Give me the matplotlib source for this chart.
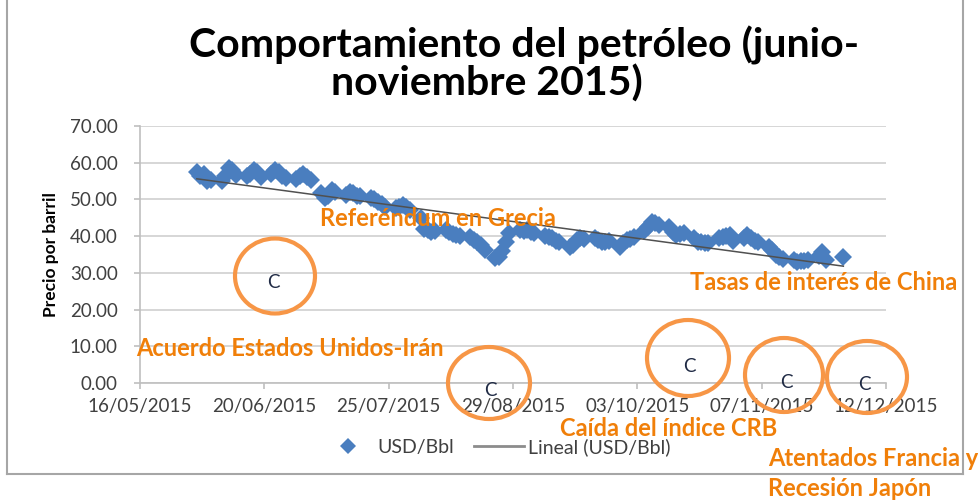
import numpy as np
import pandas as pd
import matplotlib
matplotlib.use("Agg")
import matplotlib.pyplot as plt
import matplotlib.dates as mdates
from matplotlib.patches import Ellipse
from matplotlib.lines import Line2D

plt.rcParams['font.family'] = ['Lato', 'DejaVu Sans']

# ---- data (weekly blocks of trading days, Mon..Fri) ----
week_starts = ['2015-06-01', '2015-06-08', '2015-06-15', '2015-06-22', '2015-06-29',
               '2015-07-06', '2015-07-13', '2015-07-20', '2015-07-27', '2015-08-03',
               '2015-08-10', '2015-08-17', '2015-08-24', '2015-08-31', '2015-09-07',
               '2015-09-14', '2015-09-21', '2015-09-28', '2015-10-05', '2015-10-12',
               '2015-10-19', '2015-10-26', '2015-11-02', '2015-11-09', '2015-11-16',
               '2015-11-23', '2015-11-30']
weekly_prices = [
    [57.5, 56.5, 57.0, 55.0, 55.3],
    [55.0, 56.5, 58.6, 58.0, 56.7],
    [56.5, 57.0, 58.0, 57.5, 56.0],
    [57.0, 58.0, 57.5, 56.5, 55.9],
    [55.5, 56.5, 57.0, 56.0, 55.3],
    [51.8, 50.4, 50.8, 52.6, 52.0],
    [51.2, 52.0, 51.8, 51.0, 50.8],
    [50.4, 50.0, 49.3, 48.8, 48.0],
    [47.7, 47.9, 48.5, 48.0, 47.1],
    [45.0, 42.0, 41.7, 41.1, 41.3],
    [41.7, 41.2, 40.5, 40.3, 40.0],
    [39.8, 39.0, 38.4, 37.5, 36.2],
    [34.0, 34.3, 36.0, 38.5, 40.8],
    [41.7, 41.5, 41.7, 41.0, 40.8],
    [40.0, 39.8, 39.5, 38.8, 38.4],
    [37.0, 37.5, 39.0, 39.5, 39.3],
    [39.5, 39.0, 38.4, 38.5, 38.8],
    [37.0, 38.0, 39.0, 39.3, 39.8],
    [41.5, 42.5, 43.9, 43.5, 43.0],
    [42.5, 41.0, 40.3, 40.5, 40.8],
    [39.5, 38.4, 38.5, 38.2, 38.1],
    [39.5, 39.8, 40.0, 40.3, 38.6],
    [39.5, 40.3, 39.5, 38.8, 38.4],
    [37.0, 36.2, 35.0, 34.3, 33.8],
    [33.5, 33.0, 33.2, 33.3, 33.5],
    [34.5, 35.7, 33.5],
    [34.3],
]
tick_dates = ['2015-05-16', '2015-06-20', '2015-07-25', '2015-08-29',
              '2015-10-03', '2015-11-07', '2015-12-12']
y_ticks = [0, 10, 20, 30, 40, 50, 60, 70]

events = ['Referéndum en Grecia', 'Tasas de interés de China',
          'Acuerdo Estados Unidos-Irán', 'Caída del índice CRB',
          'Atentados Francia y', 'Recesión Japón']

# build series
dates, prices = [], []
for ws, vals in zip(week_starts, weekly_prices):
    start = pd.Timestamp(ws)
    for i, v in enumerate(vals):
        dates.append(start + pd.Timedelta(days=i))
        prices.append(v)
dates = pd.to_datetime(dates)
prices = np.array(prices)

W, H = 979, 500
fig = plt.figure(figsize=(W / 100, H / 100), dpi=100)
fig.patch.set_facecolor('white')

def fx(px):
    return px / W

def fy(py):
    return 1 - py / H

ax = fig.add_axes([fx(140), fy(383), fx(886) - fx(140), fy(126) - fy(383)])

blue = '#4A7EBF'
ax.plot(dates, prices, linestyle='none', marker='D', markersize=9.5,
        color=blue, markeredgewidth=0, zorder=3)

# linear trend
xn = mdates.date2num(dates)
coef = np.polyfit(xn, prices, 1)
xt = np.array([xn.min(), xn.max()])
ax.plot(mdates.num2date(xt), np.polyval(coef, xt), color='#505050', lw=1.1, zorder=4)

ax.set_xlim(pd.Timestamp(tick_dates[0]), pd.Timestamp(tick_dates[-1]))
ax.set_ylim(0, 70)
ax.set_xticks(pd.to_datetime(tick_dates))
ax.xaxis.set_major_formatter(mdates.DateFormatter('%d/%m/%Y'))
ax.set_yticks(y_ticks)
ax.set_yticklabels([f'{v:.2f}' for v in y_ticks])
ax.grid(axis='y', color='#D0D0D0', lw=1.2)
ax.set_axisbelow(True)
for s in ['top', 'right']:
    ax.spines[s].set_visible(False)
for s in ['left', 'bottom']:
    ax.spines[s].set_color('#BFBFBF')
    ax.spines[s].set_linewidth(1.2)
ax.tick_params(axis='both', colors='#BFBFBF', labelcolor='#404040', labelsize=13.5,
               length=4, width=1.2)
ax.tick_params(axis='x', pad=7)
ax.tick_params(axis='y', pad=12)
ax.set_ylabel('Precio por barril', fontsize=12.5, fontweight='bold', color='#000000',
              labelpad=8)

# title
fig.text(fx(524), fy(45), 'Comportamiento del petróleo (junio-', ha='center', va='center',
         fontsize=29.5, fontweight='bold', color='#000000')
fig.text(fx(487), fy(84), 'noviembre 2015)', ha='center', va='center',
         fontsize=29.5, fontweight='bold', color='#000000')

# chart border
fig.add_artist(Line2D([fx(7), fx(7)], [fy(0), fy(474)], color='#A6A6A6', lw=1.5))
fig.add_artist(Line2D([fx(7), fx(963)], [fy(474), fy(474)], color='#A6A6A6', lw=1.5))
fig.add_artist(Line2D([fx(963), fx(963)], [fy(0), fy(474)], color='#A6A6A6', lw=1.5))

# legend
handles = [Line2D([], [], linestyle='none', marker='D', markersize=8, color=blue,
                  markeredgewidth=0),
           Line2D([], [], color='#8C8C8C', lw=2)]
fig.legend(handles, ['USD/Bbl', 'Lineal (USD/Bbl)'], loc='center',
           bbox_to_anchor=(fx(497), fy(447)), ncol=2, frameon=False, fontsize=14,
           handlelength=2.6, handletextpad=0.2, columnspacing=1.0, labelcolor='#404040')

# circles with "C"
circles = [(275, 276, 80, 75, 273, 283), (489, 383, 82, 72, 490, 390),
           (688, 358, 82, 76, 689, 366), (784, 375, 78, 74, 786, 382),
           (867, 377, 80, 72, 864, 385)]
orange_c = '#F79646'
for cx, cy, w, h, tx, ty in circles:
    e = Ellipse((fx(cx), fy(cy)), fx(w), h / H, transform=fig.transFigure,
                fill=False, edgecolor=orange_c, lw=3, clip_on=False, zorder=10)
    fig.add_artist(e)
    fig.text(fx(tx), fy(ty), 'C', ha='center', va='center', fontsize=13.5,
             color='#1F2A44', zorder=11)

# event labels
orange_t = '#F07F09'
pos = [(320, 218, 'left'), (690, 283, 'left'), (136, 349, 'left'),
       (560, 428, 'left'), (768, 459, 'left'), (768, 488, 'left')]
for (px, py, ha), txt in zip(pos, events):
    fig.text(fx(px), fy(py), txt, ha=ha, va='center', fontsize=17,
             fontweight='bold', color=orange_t, zorder=12)

fig.savefig('out.png', dpi=100)
